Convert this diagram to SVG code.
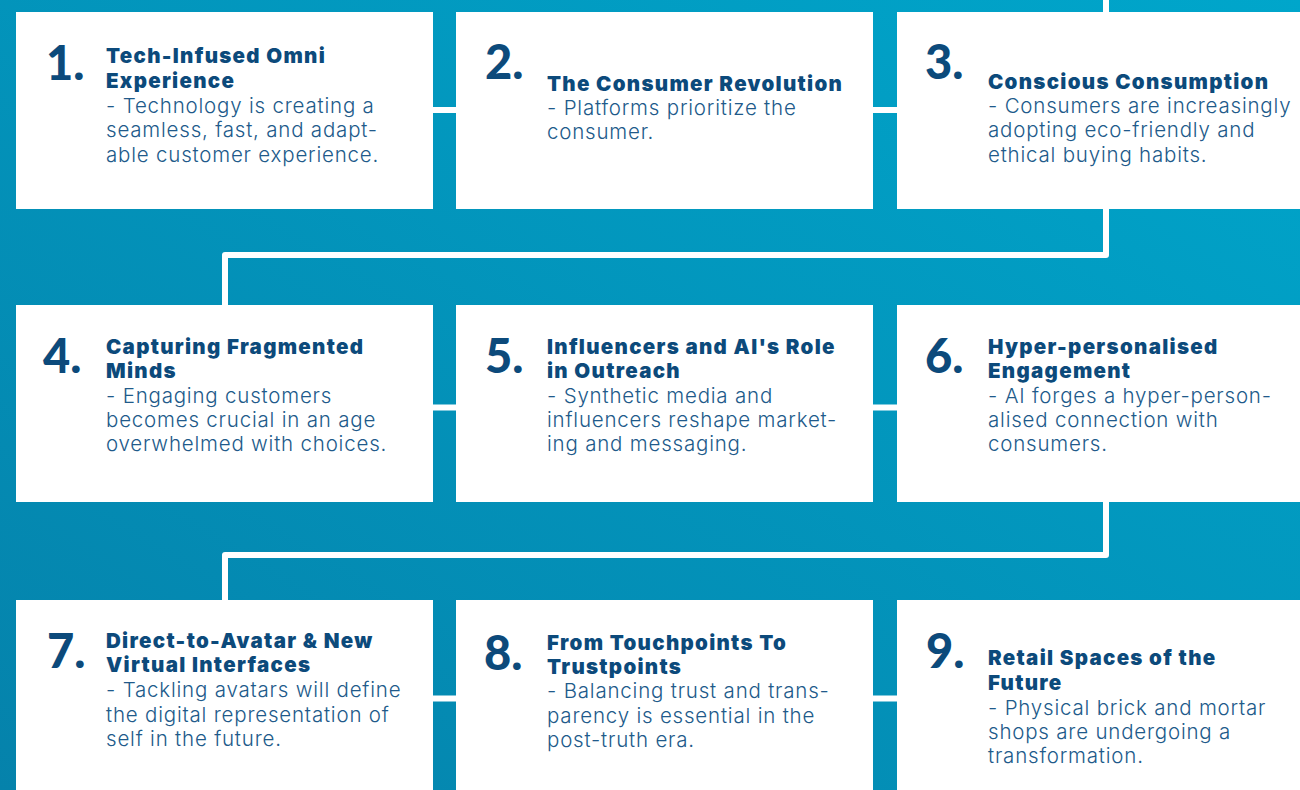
<svg xmlns="http://www.w3.org/2000/svg" width="1300" height="790" viewBox="0 0 1300 790">
  <defs>
    <linearGradient id="bg" x1="0" y1="1" x2="1" y2="0">
      <stop offset="0" stop-color="#0582ab"/>
      <stop offset="1" stop-color="#00a6cb"/>
    </linearGradient>
    <style>
      .card { fill: #ffffff; }
      .num { font-family: Lato, "Liberation Sans", sans-serif; font-weight: 900; font-size: 47px; fill: #0c4a7b; }
      .title { font-family: Inter, "Liberation Sans", sans-serif; font-weight: 900; font-size: 20.5px; letter-spacing: 1.3px; fill: #0c4a7b; }
      .body { font-family: Inter, "Liberation Sans", sans-serif; font-weight: 300; font-size: 20.5px; letter-spacing: 0.8px; fill: #215a8a; }
      .link { fill: none; stroke: #ffffff; stroke-width: 6; stroke-linejoin: round; }
    </style>
  </defs>

  <rect width="1300" height="790" fill="url(#bg)"/>

  <!-- connectors -->
  <g id="connectors">
    <path class="link" d="M433 110 H456 M873 110 H897"/>
    <path class="link" d="M433 407.5 H456 M873 407.5 H897"/>
    <path class="link" d="M433 698.5 H456 M873 698.5 H897"/>
    <path class="link" d="M1106 0 V12"/>
    <path class="link" d="M1106 208 V255 H225 V305"/>
    <path class="link" d="M1106 502 V555 H225 V600"/>
  </g>

  <!-- row 1 -->
  <g id="node-1">
    <rect class="card" x="16" y="12" width="417" height="197"/>
    <text class="num" x="46" y="80">1.</text>
    <text class="title" x="106" y="63">Tech-Infused Omni</text>
    <text class="title" x="106" y="88">Experience</text>
    <text class="body" x="106" y="113">- Technology is creating a</text>
    <text class="body" x="106" y="137">seamless, fast, and adapt-</text>
    <text class="body" x="106" y="162">able customer experience.</text>
  </g>
  <g id="node-2">
    <rect class="card" x="456" y="12" width="417" height="197"/>
    <text class="num" x="485" y="79">2.</text>
    <text class="title" x="547" y="91">The Consumer Revolution</text>
    <text class="body" x="547" y="115">- Platforms prioritize the</text>
    <text class="body" x="547" y="139">consumer.</text>
  </g>
  <g id="node-3">
    <rect class="card" x="897" y="12" width="403" height="197"/>
    <text class="num" x="925" y="79">3.</text>
    <text class="title" x="988" y="89">Conscious Consumption</text>
    <text class="body" x="988" y="113">- Consumers are increasingly</text>
    <text class="body" x="988" y="137">adopting eco-friendly and</text>
    <text class="body" x="988" y="162">ethical buying habits.</text>
  </g>

  <!-- row 2 -->
  <g id="node-4">
    <rect class="card" x="16" y="305" width="417" height="197"/>
    <text class="num" x="43" y="373">4.</text>
    <text class="title" x="106" y="354">Capturing Fragmented</text>
    <text class="title" x="106" y="378">Minds</text>
    <text class="body" x="106" y="403">- Engaging customers</text>
    <text class="body" x="106" y="427">becomes crucial in an age</text>
    <text class="body" x="106" y="451">overwhelmed with choices.</text>
  </g>
  <g id="node-5">
    <rect class="card" x="456" y="305" width="417" height="197"/>
    <text class="num" x="485" y="373">5.</text>
    <text class="title" x="547" y="354">Influencers and AI's Role</text>
    <text class="title" x="547" y="378">in Outreach</text>
    <text class="body" x="547" y="403">- Synthetic media and</text>
    <text class="body" x="547" y="427">influencers reshape market-</text>
    <text class="body" x="547" y="451">ing and messaging.</text>
  </g>
  <g id="node-6">
    <rect class="card" x="897" y="305" width="403" height="197"/>
    <text class="num" x="925" y="373">6.</text>
    <text class="title" x="988" y="354">Hyper-personalised</text>
    <text class="title" x="988" y="378">Engagement</text>
    <text class="body" x="988" y="403">- AI forges a hyper-person-</text>
    <text class="body" x="988" y="427">alised connection with</text>
    <text class="body" x="988" y="451">consumers.</text>
  </g>

  <!-- row 3 -->
  <g id="node-7">
    <rect class="card" x="16" y="600" width="417" height="190"/>
    <text class="num" x="47" y="668">7.</text>
    <text class="title" x="106" y="648">Direct-to-Avatar &amp; New</text>
    <text class="title" x="106" y="672">Virtual Interfaces</text>
    <text class="body" x="106" y="697">- Tackling avatars will define</text>
    <text class="body" x="106" y="722">the digital representation of</text>
    <text class="body" x="106" y="746">self in the future.</text>
  </g>
  <g id="node-8">
    <rect class="card" x="456" y="600" width="417" height="190"/>
    <text class="num" x="484" y="670">8.</text>
    <text class="title" x="547" y="650">From Touchpoints To</text>
    <text class="title" x="547" y="674">Trustpoints</text>
    <text class="body" x="547" y="698">- Balancing trust and trans-</text>
    <text class="body" x="547" y="723">parency is essential in the</text>
    <text class="body" x="547" y="747">post-truth era.</text>
  </g>
  <g id="node-9">
    <rect class="card" x="897" y="600" width="403" height="190"/>
    <text class="num" x="926" y="668">9.</text>
    <text class="title" x="988" y="665">Retail Spaces of the</text>
    <text class="title" x="988" y="690">Future</text>
    <text class="body" x="988" y="715">- Physical brick and mortar</text>
    <text class="body" x="988" y="739">shops are undergoing a</text>
    <text class="body" x="988" y="763">transformation.</text>
  </g>
</svg>
